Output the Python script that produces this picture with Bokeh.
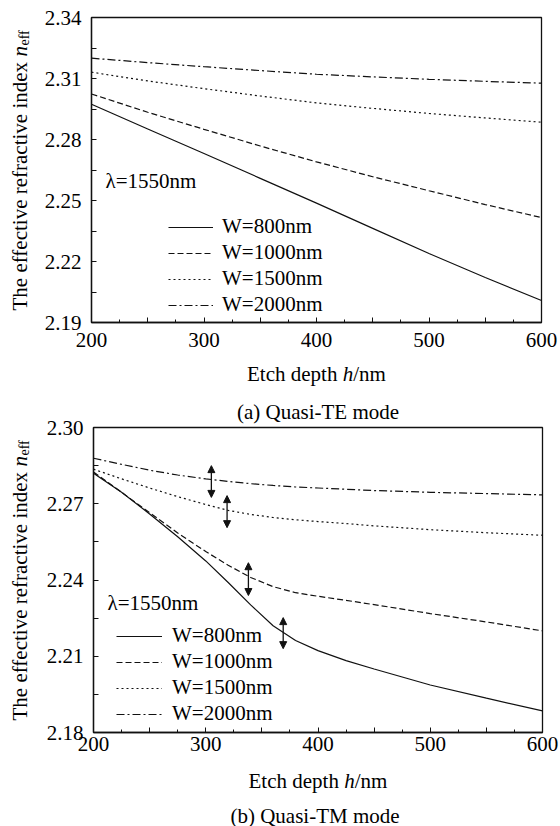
import math
from bokeh.plotting import figure
from bokeh.layouts import column, row
from bokeh.models import (Range1d, FixedTicker, NumeralTickFormatter, Label, Legend,
                          LegendItem, Arrow, NormalHead, ColumnDataSource, Title)
from bokeh.embed import file_html
from bokeh.resources import INLINE

# ---------------- data ----------------
series_labels = ["W=800nm", "W=1000nm", "W=1500nm", "W=2000nm"]

# (a) Quasi-TE mode
h_te = [200, 250, 300, 350, 400, 450, 500, 550, 600]
te_800 = [2.2973, 2.2852, 2.2731, 2.2609, 2.2487, 2.2363, 2.2239, 2.2121, 2.2008]
te_1000 = [2.3024, 2.2934, 2.2850, 2.2768, 2.2690, 2.2617, 2.2548, 2.2480, 2.2416]
te_1500 = [2.3131, 2.3088, 2.3050, 2.3014, 2.2980, 2.2953, 2.2928, 2.2906, 2.2885]
te_2000 = [2.3200, 2.3178, 2.3158, 2.3139, 2.3121, 2.3108, 2.3096, 2.3086, 2.3077]

# (b) Quasi-TM mode
h_tm = [200, 225, 250, 275, 300, 320, 340, 360, 380, 400, 425, 450, 500, 550, 600]
tm_800 = [2.2820, 2.2745, 2.2660, 2.2570, 2.2475, 2.2390, 2.2302, 2.2220, 2.2162, 2.2122,
          2.2083, 2.2050, 2.1987, 2.1935, 2.1885]
tm_1000 = [2.2825, 2.2745, 2.2665, 2.2585, 2.2512, 2.2458, 2.2410, 2.2374, 2.2350, 2.2336,
           2.2320, 2.2303, 2.2268, 2.2235, 2.2200]
tm_1500 = [2.2836, 2.2798, 2.2762, 2.2728, 2.2697, 2.2674, 2.2658, 2.2646, 2.2637, 2.2630,
           2.2622, 2.2613, 2.2598, 2.2586, 2.2576]
tm_2000 = [2.2879, 2.2855, 2.2832, 2.2813, 2.2798, 2.2788, 2.2779, 2.2772, 2.2766, 2.2762,
           2.2757, 2.2752, 2.2745, 2.2740, 2.2735]

# double arrows in (b)
arrow_h = [305, 319, 338, 369]
arrow_lo = [2.2725, 2.2606, 2.2339, 2.2130]
arrow_hi = [2.2850, 2.2732, 2.2468, 2.2252]

x_major = [200, 250, 300, 350, 400, 450, 500, 550, 600]
x_minor = [225, 275, 325, 375, 425, 475, 525, 575]
x_labels = {250: "", 350: "", 450: "", 550: ""}

te_yticks = [2.19, 2.22, 2.25, 2.28, 2.31, 2.34]
te_yminor = [2.205, 2.235, 2.265, 2.295, 2.325]
tm_yticks = [2.18, 2.21, 2.24, 2.27, 2.30]
tm_yminor = [2.195, 2.225, 2.255, 2.285]

captions = ["(a) Quasi-TE mode", "(b) Quasi-TM mode"]

FONT = "Liberation Serif"
FS = "21px"
INK = "#111111"
DASHES = ["solid", "6 3", "2 3", "8 3 2 3"]
YL_W = 40     # width of the strip holding the rotated y-axis title
W = 560
TEXT_DY = 7   # empirical baseline correction for labels
ROT_DX = -8
ROT_DY = -34


def aux_fig(w, h):
    f = figure(width=w, height=h, output_backend="svg", toolbar_location=None,
               x_range=Range1d(0, 1), y_range=Range1d(0, 1),
               x_axis_type=None, y_axis_type=None, min_border=0)
    f.outline_line_color = None
    f.background_fill_color = "white"
    f.border_fill_color = "white"
    f.xgrid.visible = False
    f.ygrid.visible = False
    return f


def lab(f, sx, sy, text, **kw):
    args = dict(x=sx, y=sy + TEXT_DY, x_units="screen", y_units="screen",
                text=text, text_font=FONT, text_font_size=FS,
                text_color="black", text_baseline="alphabetic")
    args.update(kw)
    f.add_layout(Label(**args))


def rlab(f, sx, sy, text, **kw):
    args = dict(x=sx + ROT_DX, y=sy + ROT_DY, x_units="screen", y_units="screen",
                text=text, text_font=FONT, text_font_size=FS, angle=math.pi / 2,
                text_color="black", text_baseline="alphabetic")
    args.update(kw)
    f.add_layout(Label(**args))


def make_panel(h, ys, yrange, yticks, yminor, fig_h, frame, lam_xy, leg_loc,
               leg_glyph_w, leg_standoff, x_standoff, arrows=None, above_caption=None):
    # frame = (left, top, right, bottom) in px of the whole panel (left incl. the y-title strip)
    left, top, right, bottom = frame
    pw = W - YL_W
    p = figure(width=pw, height=fig_h, output_backend="svg", toolbar_location=None,
               x_range=Range1d(200, 600), y_range=Range1d(*yrange),
               min_border_left=left - YL_W, min_border_right=W - right,
               min_border_top=top, min_border_bottom=fig_h - bottom)
    p.background_fill_color = "white"
    p.border_fill_color = "white"
    p.outline_line_color = INK
    p.outline_line_width = 1.3
    p.xgrid.visible = False
    p.ygrid.visible = False

    if above_caption is not None:
        p.title = Title(text=above_caption, align="center", offset=-4, standoff=7,
                        text_font=FONT, text_font_size=FS, text_font_style="normal",
                        text_color="black")

    for ax in (p.xaxis[0], p.yaxis[0]):
        ax.axis_line_color = INK
        ax.axis_line_width = 1.3
        ax.major_tick_line_color = INK
        ax.minor_tick_line_color = INK
        ax.major_tick_in = 5
        ax.major_tick_out = 0
        ax.minor_tick_in = 3
        ax.minor_tick_out = 0
        ax.major_label_text_font = FONT
        ax.major_label_text_font_size = FS
        ax.major_label_text_color = "black"

    p.xaxis.ticker = FixedTicker(ticks=x_major, minor_ticks=x_minor)
    p.xaxis.major_label_overrides = x_labels
    p.xaxis.major_label_standoff = x_standoff
    p.yaxis.ticker = FixedTicker(ticks=yticks, minor_ticks=yminor)
    p.yaxis.formatter = NumeralTickFormatter(format="0.00")
    p.yaxis.major_label_standoff = 10
    p.yaxis[0].minor_tick_in = 5

    items = []
    for lb, yv, dash in zip(series_labels, ys, DASHES):
        r = p.line(h, yv, line_color=INK, line_width=1.2, line_dash=dash)
        items.append(LegendItem(label=lb, renderers=[r]))

    leg = Legend(items=items, location=leg_loc, padding=0, margin=0, spacing=1,
                 glyph_width=leg_glyph_w, glyph_height=24, label_height=24,
                 label_standoff=leg_standoff, border_line_color=None,
                 background_fill_alpha=0, label_text_font=FONT,
                 label_text_font_size=FS, label_text_color="black")
    p.add_layout(leg)

    # lambda label (inside the frame)
    lab(p, lam_xy[0] - left, bottom - lam_xy[1], "\u03bb=1550nm")

    if arrows is not None:
        src = ColumnDataSource(dict(x0=arrows[0], y0=arrows[1], x1=arrows[0], y1=arrows[2]))
        p.add_layout(Arrow(x_start="x0", y_start="y0", x_end="x1", y_end="y1", source=src,
                           line_color=INK, line_width=1.3,
                           start=NormalHead(size=7, fill_color=INK, line_color=INK),
                           end=NormalHead(size=7, fill_color=INK, line_color=INK)))

    # rotated y-axis title strip
    yl = aux_fig(YL_W, fig_h)
    sy0 = fig_h - (bottom - 13)
    rlab(yl, 27, sy0, "The effective refractive index ")
    rlab(yl, 27, sy0 + 254, "n", text_font_style="italic")
    rlab(yl, 32, sy0 + 265, "eff", text_font_size="14px")
    return row(yl, p, spacing=0)


def make_xlabel(h, xlab_sy, center, caption=None, cap_sy=None):
    f = aux_fig(W, h)
    x0 = center - 69.5
    lab(f, x0, xlab_sy, "Etch depth ")
    lab(f, x0 + 95.7, xlab_sy, "h", text_font_style="italic")
    lab(f, x0 + 106.2, xlab_sy, "/nm")
    if caption is not None:
        lab(f, center - 3, cap_sy, caption, text_align="center")
    return f


# panel (a): canvas 0-355; x title strip 355-392; panel (b): 392-765; strip 765-826
top = make_panel(h_te, [te_800, te_1000, te_1500, te_2000], (2.19, 2.34), te_yticks, te_yminor,
                 355, (91, 17, 541, 322), (105, 187), (77, 5), 45, 9, 10)
xl1 = make_xlabel(37, 12, 316)
bot = make_panel(h_tm, [tm_800, tm_1000, tm_1500, tm_2000], (2.18, 2.30), tm_yticks, tm_yminor,
                 373, (93, 35, 542, 340), (107, 217), (23, 6), 46, 10, 4,
                 arrows=(arrow_h, arrow_lo, arrow_hi), above_caption=captions[0])
xl2 = make_xlabel(61, 39, 317.5, captions[1], 4)

layout = column(top, xl1, bot, xl2, spacing=0)
open("out.html", "w").write(file_html(layout, INLINE))
